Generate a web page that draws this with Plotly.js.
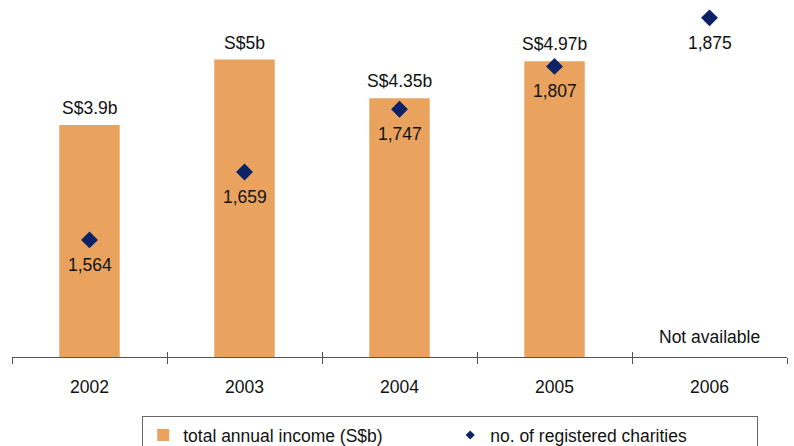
<!DOCTYPE html>
<html>
<head>
<meta charset="utf-8">
<script src="https://cdn.plot.ly/plotly-3.0.1.min.js"></script>
<style>html,body{margin:0;padding:0;background:#fff;}#chart{width:794px;height:446px;}</style>
</head>
<body>
<div id="chart"></div>
<script>
var years = ['2002', '2003', '2004', '2005', '2006'];
var income = [3.9, 5, 4.35, 4.97, null];
var charities = [1564, 1659, 1747, 1807, 1875];
var incomeName = 'total annual income (S$b)';
var charitiesName = 'no. of registered charities';
var missingText = 'Not available';

var barColor = '#E9A35F';
var diamondColor = '#0B2266';
var textColor = '#111111';
var fontFamily = 'Liberation Sans, Arial, Helvetica, sans-serif';
var fs = 17.5;

var traces = [
  {
    type: 'bar', x: years, y: income, name: incomeName,
    marker: {color: barColor}, width: 0.39, hoverinfo: 'skip'
  },
  {
    type: 'scatter', mode: 'markers', x: years, y: charities, yaxis: 'y2',
    name: charitiesName, showlegend: false,
    marker: {symbol: 'diamond', size: 13, color: diamondColor}
  },
  {
    type: 'scatter', mode: 'markers', x: [null], y: [null], yaxis: 'y2',
    name: charitiesName, showlegend: true,
    marker: {symbol: 'diamond', size: 7, color: diamondColor}
  },
  {
    type: 'scatter', mode: 'markers', x: years, y: charities, xaxis: 'x2',
    yaxis: 'y2', showlegend: false, hoverinfo: 'skip',
    marker: {size: 1, opacity: 0}
  }
];

var annotations = [];
for (var i = 0; i < years.length; i++) {
  if (income[i] !== null) {
    annotations.push({
      x: i, y: income[i], xref: 'x', yref: 'y', text: 'S$' + income[i] + 'b',
      showarrow: false, yanchor: 'middle', yshift: 17,
      font: {size: fs, color: textColor}
    });
  } else {
    annotations.push({
      x: i, y: 0, xref: 'x', yref: 'y', text: missingText,
      showarrow: false, yanchor: 'middle', yshift: 20,
      font: {size: fs, color: textColor}
    });
  }
  annotations.push({
    x: i, y: charities[i], xref: 'x', yref: 'y2',
    text: charities[i].toLocaleString('en-US'),
    showarrow: false, yanchor: 'middle', yshift: -25,
    font: {size: fs, color: textColor}
  });
}

var layout = {
  width: 794, height: 446,
  margin: {l: 12, r: 7, t: 0, b: 89, autoexpand: false},
  paper_bgcolor: '#fff', plot_bgcolor: '#fff',
  font: {family: fontFamily, size: fs, color: textColor},
  showlegend: true,
  xaxis: {
    type: 'category', tickson: 'boundaries', ticks: 'outside', ticklen: 6,
    tickcolor: '#555', tickwidth: 1, showline: true, linecolor: '#555', linewidth: 1,
    showgrid: false, zeroline: false, ticklabelstandoff: 14,
    tickfont: {size: fs, color: textColor}, range: [-0.5, 4.5]
  },
  xaxis2: {
    type: 'category', overlaying: 'x', anchor: 'y', side: 'bottom',
    tickson: 'boundaries', ticks: 'inside', ticklen: 5, tickcolor: '#555',
    tickwidth: 1, showticklabels: false, showline: false, showgrid: false,
    zeroline: false, range: [-0.5, 4.5]
  },
  yaxis: {range: [0, 6], visible: false, showgrid: false, zeroline: false},
  yaxis2: {range: [1400, 1900], overlaying: 'y', visible: false, showgrid: false, zeroline: false},
  legend: {
    orientation: 'h', x: 0.168, xanchor: 'left', y: -0.1655, yanchor: 'top',
    bordercolor: '#666', borderwidth: 1, bgcolor: '#fff',
    font: {size: fs, color: textColor}, traceorder: 'normal', entrywidth: 262
  },
  annotations: annotations
};

Plotly.newPlot('chart', traces, layout, {displayModeBar: false, staticPlot: true});
</script>
</body>
</html>
